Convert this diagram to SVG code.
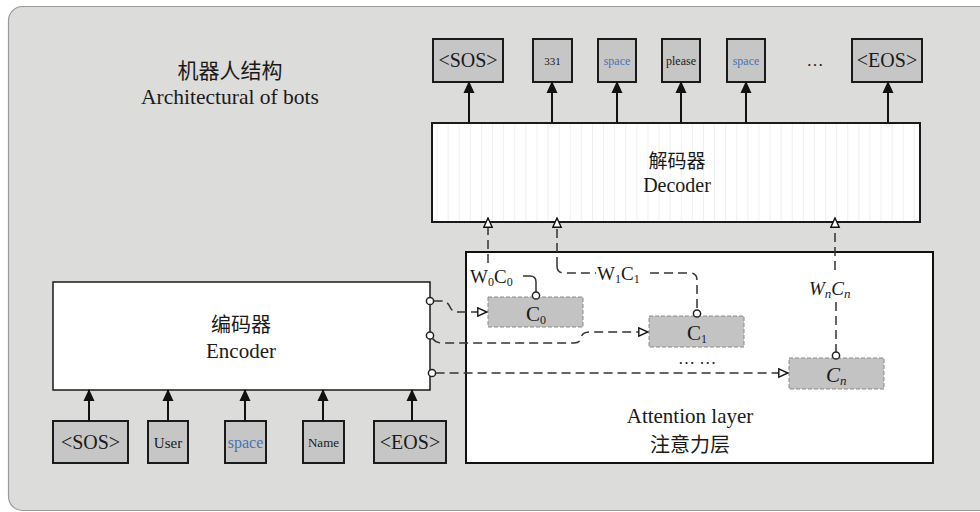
<svg xmlns="http://www.w3.org/2000/svg" width="980" height="512" viewBox="0 0 980 512">
<style>
text{font-family:'Liberation Serif','Noto Sans CJK SC',serif;fill:#1a1a1a}
.zh{font-family:'Noto Sans CJK SC','Liberation Serif',sans-serif}
.tok{fill:#c6c6c6;stroke:#1a1a1a;stroke-width:2}
.cbox{fill:#c3c3c3;stroke:#8a8a8a;stroke-width:1;stroke-dasharray:4,2}
.sol{stroke:#111;stroke-width:2;fill:none}
.dash{stroke:#333;stroke-width:1.5;fill:none;stroke-dasharray:9,5}
.thin{stroke:#333;stroke-width:1.5;fill:none}
.circ{fill:#fff;stroke:#222;stroke-width:1.5}
.blue{fill:#4a72b4}
</style>
<defs>
<marker id="ah" markerUnits="userSpaceOnUse" markerWidth="12" markerHeight="13" refX="12" refY="6" orient="auto" viewBox="0 0 13 12">
<path d="M0,0 L13,6 L0,12 Z" fill="#111"/>
</marker>
<marker id="oh" markerUnits="userSpaceOnUse" markerWidth="11" markerHeight="11" refX="10" refY="5" orient="auto" viewBox="0 0 11 10">
<path d="M0.8,0.8 L10,5 L0.8,9.2 Z" fill="#fff" stroke="#111" stroke-width="1.4"/>
</marker>
<pattern id="stripes" patternUnits="userSpaceOnUse" x="437.5" y="0" width="11.1" height="10">
<line x1="11" y1="0" x2="11" y2="10" stroke="#e6e6e6" stroke-width="1"/>
</pattern>
</defs>

<rect x="8.5" y="6.5" width="990" height="504" rx="14" fill="#dcdcdb" stroke="#9a9a9a" stroke-width="1.2"/>

<g id="title">
<text class="zh" x="230" y="78" font-size="21" text-anchor="middle">机器人结构</text>
<text x="230" y="104" font-size="21.5" text-anchor="middle">Architectural of bots</text>
</g>

<g id="decoder">
<rect x="432" y="123" width="488" height="99" fill="#fff" stroke="none"/>
<rect x="432" y="123" width="488" height="99" fill="url(#stripes)" stroke="#1a1a1a" stroke-width="2"/>
<text class="zh" x="677" y="168" font-size="19" text-anchor="middle">解码器</text>
<text x="677" y="192" font-size="20" text-anchor="middle">Decoder</text>
</g>

<g id="encoder">
<rect x="53" y="282" width="377" height="108" fill="#fff" stroke="#1a1a1a" stroke-width="1.5"/>
<text class="zh" x="241" y="332" font-size="20" text-anchor="middle">编码器</text>
<text x="241" y="358" font-size="21" text-anchor="middle">Encoder</text>
</g>

<g id="attention">
<rect x="466" y="252" width="467" height="211" fill="#fff" stroke="#111" stroke-width="2"/>
<text x="690" y="423" font-size="21" text-anchor="middle">Attention layer</text>
<text class="zh" x="690" y="452" font-size="20" text-anchor="middle">注意力层</text>
<text x="697" y="364" font-size="17" text-anchor="middle">… …</text>
</g>

<g id="c0">
<rect class="cbox" x="488" y="297" width="95" height="30"/>
<text x="526" y="321" font-size="21">C<tspan font-size="12" dy="3">0</tspan></text>
</g>
<g id="c1">
<rect class="cbox" x="649" y="316" width="95" height="31"/>
<text x="687" y="340" font-size="21">C<tspan font-size="12" dy="3">1</tspan></text>
</g>
<g id="cn">
<rect class="cbox" x="789" y="358" width="95" height="31"/>
<text x="826" y="382" font-size="21" font-style="italic">C<tspan font-size="13" dy="3">n</tspan></text>
</g>

<g id="out-sos"><rect class="tok" x="433" y="39" width="70" height="43"/><text x="468" y="67" font-size="20" text-anchor="middle">&lt;SOS&gt;</text></g>
<g id="out-331"><rect class="tok" x="533" y="39" width="39" height="43"/><text x="552.5" y="65" font-size="11" text-anchor="middle">331</text></g>
<g id="out-space1"><rect class="tok" x="598" y="39" width="38" height="43"/><text class="blue" x="617" y="65" font-size="12" text-anchor="middle">space</text></g>
<g id="out-please"><rect class="tok" x="662" y="39" width="38" height="43"/><text x="681" y="65" font-size="12" text-anchor="middle">please</text></g>
<g id="out-space2"><rect class="tok" x="727" y="39" width="38" height="43"/><text class="blue" x="746" y="65" font-size="12" text-anchor="middle">space</text></g>
<g id="out-dots"><text x="815" y="66" font-size="17" text-anchor="middle">…</text></g>
<g id="out-eos"><rect class="tok" x="852" y="39" width="70" height="43"/><text x="887" y="67" font-size="20" text-anchor="middle">&lt;EOS&gt;</text></g>

<g id="in-sos"><rect class="tok" x="53" y="421" width="75" height="42"/><text x="90.5" y="449" font-size="20" text-anchor="middle">&lt;SOS&gt;</text></g>
<g id="in-user"><rect class="tok" x="148" y="421" width="40" height="42"/><text x="168" y="448" font-size="15" text-anchor="middle">User</text></g>
<g id="in-space"><rect class="tok" x="225" y="421" width="41" height="42"/><text class="blue" x="245.5" y="448" font-size="16" text-anchor="middle">space</text></g>
<g id="in-name"><rect class="tok" x="303" y="421" width="41" height="42"/><text x="323.5" y="447" font-size="13" text-anchor="middle">Name</text></g>
<g id="in-eos"><rect class="tok" x="374" y="421" width="72" height="42"/><text x="410" y="449" font-size="20" text-anchor="middle">&lt;EOS&gt;</text></g>

<g id="connectors">
<line class="sol" x1="469" y1="123" x2="469" y2="82" marker-end="url(#ah)"/>
<line class="sol" x1="552" y1="123" x2="552" y2="82" marker-end="url(#ah)"/>
<line class="sol" x1="617" y1="123" x2="617" y2="82" marker-end="url(#ah)"/>
<line class="sol" x1="681" y1="123" x2="681" y2="82" marker-end="url(#ah)"/>
<line class="sol" x1="746" y1="123" x2="746" y2="82" marker-end="url(#ah)"/>
<line class="sol" x1="888" y1="123" x2="888" y2="82" marker-end="url(#ah)"/>

<line class="sol" x1="89" y1="421" x2="89" y2="390" marker-end="url(#ah)"/>
<line class="sol" x1="168" y1="421" x2="168" y2="390" marker-end="url(#ah)"/>
<line class="sol" x1="245" y1="421" x2="245" y2="390" marker-end="url(#ah)"/>
<line class="sol" x1="323" y1="421" x2="323" y2="390" marker-end="url(#ah)"/>
<line class="sol" x1="412" y1="421" x2="412" y2="390" marker-end="url(#ah)"/>

<path class="dash" d="M488,263 L488,218" marker-end="url(#oh)"/>
<text x="470" y="283" font-size="19">W<tspan font-size="12" dy="3">0</tspan><tspan dy="-3">C</tspan><tspan font-size="12" dy="3">0</tspan></text>
<path class="thin" d="M523,276 L530,276 Q536,276 536,282 L536,292"/>
<circle class="circ" cx="536" cy="295.5" r="3.6"/>

<path class="dash" d="M557,266 Q557,273 564,273 L596,273"/>
<path class="dash" d="M557,266 L557,218" marker-end="url(#oh)"/>
<text x="597" y="280" font-size="19">W<tspan font-size="12" dy="3">1</tspan><tspan dy="-3">C</tspan><tspan font-size="12" dy="3">1</tspan></text>
<path class="dash" d="M650,273 L690,273 Q697,273 697,280 L697,310"/>
<circle class="circ" cx="697" cy="313.5" r="3.6"/>

<path class="dash" d="M835,270 L835,218" marker-end="url(#oh)"/>
<text x="809" y="295" font-size="19" font-style="italic">W<tspan font-size="13" dy="3">n</tspan><tspan dy="-3">C</tspan><tspan font-size="13" dy="3">n</tspan></text>
<path class="dash" d="M836,302 L836,352"/>
<circle class="circ" cx="836" cy="355.5" r="3.6"/>

<circle class="circ" cx="430" cy="301" r="3.6"/>
<path class="dash" d="M433.6,301 L443,301 Q448,302 450,307 Q452,312 458,312 L487,312" marker-end="url(#oh)" stroke-dasharray="9,4,6,5,9,5"/>

<circle class="circ" cx="430" cy="335.5" r="3.6"/>
<path class="dash" d="M432.5,338.5 Q436,343 442,343 L574,343 Q580,343 581,338 Q582,332 590,332 L648,332" marker-end="url(#oh)"/>

<circle class="circ" cx="432" cy="373" r="3.6"/>
<path class="dash" d="M435.6,373 L788,373" marker-end="url(#oh)"/>
</g>
</svg>
